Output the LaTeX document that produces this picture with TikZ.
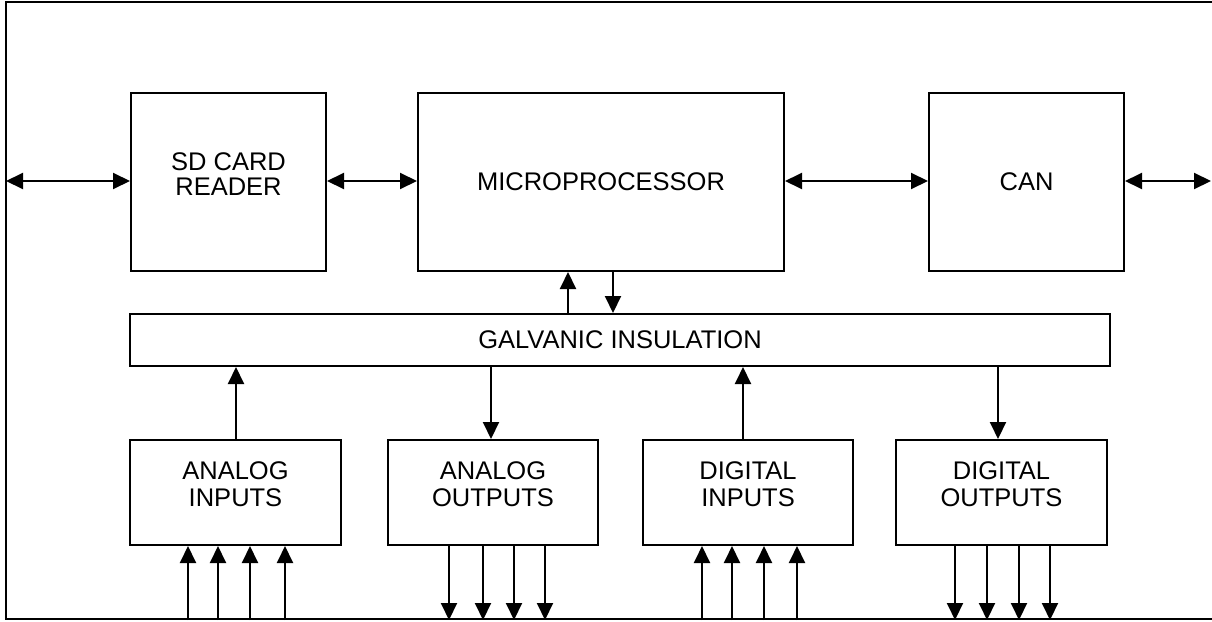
\documentclass[tikz,border=0pt]{standalone}
\usepackage{fontspec}
\setmainfont{Liberation Sans}
\usetikzlibrary{arrows.meta}
\begin{document}
\begin{tikzpicture}[x=1pt,y=-1pt,
  tip/.style={Triangle[length=17pt,width=16pt]},
  blk/.style={draw,line width=2pt,inner sep=0pt,align=center,font=\fontsize{25.5}{27}\selectfont},
  conn/.style={line width=2pt,-{Triangle[length=17pt,width=16pt]}},
  bconn/.style={line width=2pt,{Triangle[length=17pt,width=16pt]}-{Triangle[length=17pt,width=16pt]}}]
\useasboundingbox (0,0) rectangle (1212,621);
\node[draw,line width=2pt,minimum width=1210pt,minimum height=617pt,inner sep=0pt] (border) at (611,310.5) {};
\node[blk,minimum width=195pt,minimum height=178pt] (SD) at (228.5,182) {};
\node[font=\fontsize{25.5}{25}\selectfont,align=center] at (228.5,174) {SD CARD\\READER};
\node[blk,minimum width=366pt,minimum height=178pt] (MP) at (601,182) {MICROPROCESSOR};
\node[blk,minimum width=195pt,minimum height=178pt] (CAN) at (1026.5,182) {CAN};
\node[blk,minimum width=980pt,minimum height=52pt] (GI) at (620,340) {GALVANIC INSULATION};
\node[blk,minimum width=211pt,minimum height=105pt] (AI) at (235.5,492.5) {};
\node[blk,minimum width=210pt,minimum height=105pt] (AO) at (493,492.5) {};
\node[blk,minimum width=210pt,minimum height=105pt] (DI) at (748,492.5) {};
\node[blk,minimum width=211pt,minimum height=105pt] (DO) at (1001.5,492.5) {};
\foreach \n/\t in {AI/ANALOG\\INPUTS,AO/ANALOG\\OUTPUTS,DI/DIGITAL\\INPUTS,DO/DIGITAL\\OUTPUTS}
  \node[font=\fontsize{25.5}{27}\selectfont,align=center] at ([yshift=8pt]\n.center) {\t};
% horizontal links
\coordinate (L) at (6,181);
\coordinate (R) at (1211,181);
\draw[bconn] (L) -- (L -| SD.west);
\draw[bconn] (SD.east |- 0,181) -- (MP.west |- 0,181);
\draw[bconn] (MP.east |- 0,181) -- (CAN.west |- 0,181);
\draw[bconn] (CAN.east |- 0,181) -- (R);
% micro <-> galvanic
\draw[conn] (GI.north -| 568,0) -- (MP.south -| 568,0);
\draw[conn] (MP.south -| 613,0) -- (GI.north -| 613,0);
% galvanic <-> io
\draw[conn] (AI.north -| 236,0) -- (GI.south -| 236,0);
\draw[conn] (GI.south -| 491,0) -- (AO.north -| 491,0);
\draw[conn] (DI.north -| 743,0) -- (GI.south -| 743,0);
\draw[conn] (GI.south -| 998,0) -- (DO.north -| 998,0);
% field lines
\foreach \x in {188,218,250,285}
  \draw[conn] (border.south -| \x,0) -- (AI.south -| \x,0);
\foreach \x in {449,483,514,545}
  \draw[conn] (AO.south -| \x,0) -- (border.south -| \x,0);
\foreach \x in {702,732,764,797}
  \draw[conn] (border.south -| \x,0) -- (DI.south -| \x,0);
\foreach \x in {955,987,1019,1050}
  \draw[conn] (DO.south -| \x,0) -- (border.south -| \x,0);
\end{tikzpicture}
\end{document}
